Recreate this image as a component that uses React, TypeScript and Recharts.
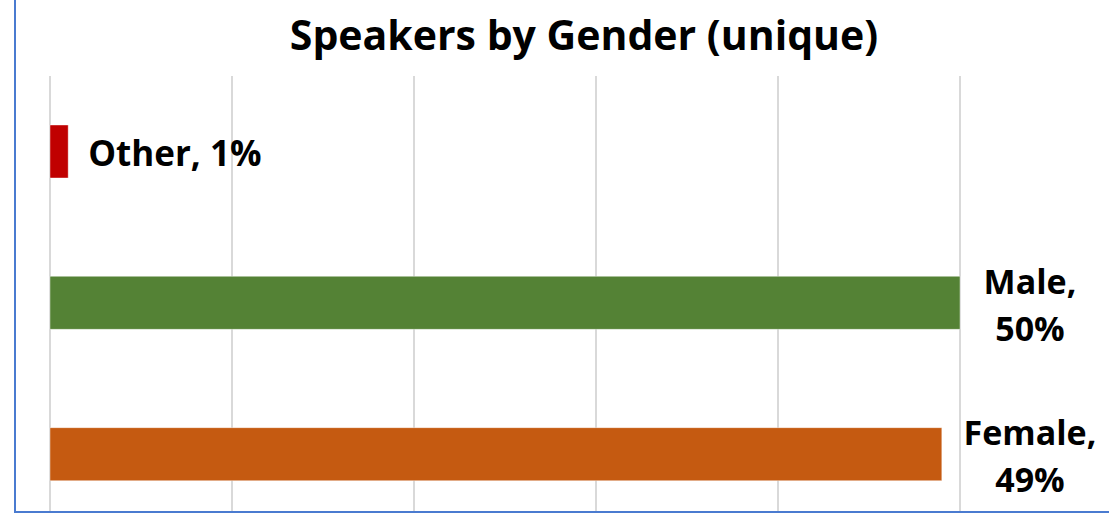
import { BarChart, Bar, XAxis, YAxis, CartesianGrid, Cell, LabelList } from 'recharts';

const categories = ['Other', 'Male', 'Female'];
const shares = [1, 50, 49];
const barColors = ['#C00000', '#548235', '#C55A11'];
const axisTicks = [0, 10, 20, 30, 40, 50];

const chartData = categories.map((name, i) => ({ name, value: shares[i] }));

const WIDTH = 1109;
const HEIGHT = 560;
const MARGIN = { top: 76, right: 149, bottom: 30, left: 50 };
const PLOT_RIGHT = WIDTH - MARGIN.right;
const FONT = '"Open Sans", sans-serif';

// Label like Excel: inline if it fits, otherwise wrapped to the right of the plot
function BarLabel(props: any) {
  const { x, y, width, height, index } = props;
  const name = categories[index];
  const text = `${shares[index]}%`;
  const cy = y + height / 2;
  const end = x + width;
  if (end + 240 < PLOT_RIGHT) {
    return (
      <text x={end + 20} y={cy + 14} fontFamily={FONT} fontWeight={700} fontSize={35} fill="#000">
        {`${name}, ${text}`}
      </text>
    );
  }
  const cx = PLOT_RIGHT + 70;
  return (
    <text x={cx} y={cy - 9} textAnchor="middle" fontFamily={FONT} fontWeight={700} fontSize={34} fill="#000">
      <tspan x={cx}>{`${name},`}</tspan>
      <tspan x={cx} dy={47}>{text}</tspan>
    </text>
  );
}

export default function App() {
  return (
    <div style={{ position: 'absolute', left: 0, top: 0, width: WIDTH, height: 513, overflow: 'hidden', background: '#fff' }}>
      <BarChart width={WIDTH} height={HEIGHT} data={chartData} layout="vertical" margin={MARGIN}>
        <CartesianGrid horizontal={false} stroke="#d9d9d9" strokeWidth={2} />
        <XAxis type="number" domain={[0, 50]} ticks={axisTicks} hide />
        <YAxis type="category" dataKey="name" hide />
        <Bar dataKey="value" barSize={53} isAnimationActive={false} stroke="#ffffff" strokeOpacity={0.4}>
          {chartData.map((d, i) => (
            <Cell key={d.name} fill={barColors[i]} />
          ))}
          <LabelList dataKey="value" content={BarLabel} />
        </Bar>
      </BarChart>
      <svg width={WIDTH} height={70} style={{ position: 'absolute', left: 0, top: 0 }}>
        <text x={584} y={50} textAnchor="middle" fontFamily={FONT} fontWeight={700} fontSize={41} fill="#000">
          Speakers by Gender (unique)
        </text>
      </svg>
      <div style={{ position: 'absolute', left: 14, top: 0, width: 2, height: 513, background: '#4A7BD0' }} />
      <div style={{ position: 'absolute', left: 14, top: 511, width: WIDTH, height: 2, background: '#4A7BD0' }} />
    </div>
  );
}
